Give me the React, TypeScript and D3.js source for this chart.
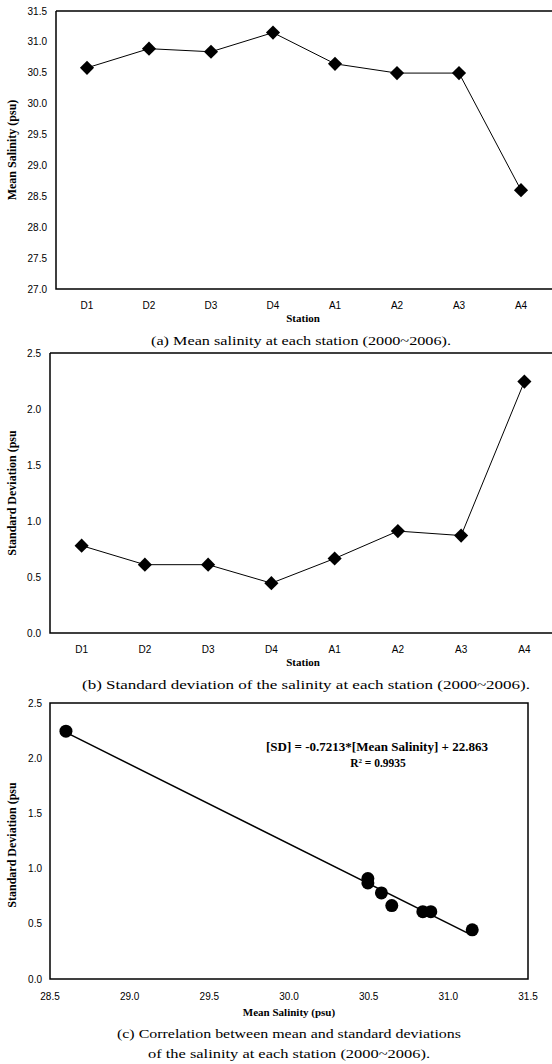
import React from "react";
import * as d3 from "d3";

const stations = ["D1", "D2", "D3", "D4", "A1", "A2", "A3", "A4"];
const meanSalinity = [30.58, 30.89, 30.84, 31.15, 30.645, 30.495, 30.495, 28.6];
const stdDev = [0.78, 0.61, 0.61, 0.445, 0.665, 0.91, 0.87, 2.245];
const meanTicks = [27.0, 27.5, 28.0, 28.5, 29.0, 29.5, 30.0, 30.5, 31.0, 31.5];
const sdTicks = [0.0, 0.5, 1.0, 1.5, 2.0, 2.5];
const salTicksC = [28.5, 29.0, 29.5, 30.0, 30.5, 31.0, 31.5];
const regSlope = -0.7213;
const regIntercept = 22.863;
const captions = [
  "(a) Mean salinity at each station (2000~2006).",
  "(b) Standard deviation of the salinity at each station (2000~2006).",
  "(c) Correlation between mean and standard deviations",
  "of the salinity at each station (2000~2006).",
];

const SANS = "'Liberation Sans', Arial, sans-serif";
const SERIF = "'Liberation Serif', 'Times New Roman', serif";
const CAP = "'Liberation Serif', 'Times New Roman', serif";

const diamond = d3.symbol().type(d3.symbolSquare).size(100)();

function LinePanel({ values, ticks, domain, top, bottom, left, right, yTitle, fmt }: any) {
  const x = d3.scaleBand().domain(stations).range([left, right]);
  const y = d3.scaleLinear().domain(domain).range([bottom, top]);
  const line = d3
    .line<number>()
    .x((_, i) => (x(stations[i]) as number) + x.bandwidth() / 2)
    .y((v) => y(v));
  return (
    <g>
      <path d={`M${left},${top}H${right}M${left},${top}V${bottom}H${right}`} fill="none" stroke="#000" strokeWidth={1.5} />
      {ticks.map((t: number) => (
        <text key={t} x={left - 9} y={y(t)} dy="0.35em" textAnchor="end" fontFamily={SANS} fontSize={10}>
          {fmt(t)}
        </text>
      ))}
      {stations.map((s) => (
        <text key={s} x={(x(s) as number) + x.bandwidth() / 2} y={bottom + 20} textAnchor="middle" fontFamily={SANS} fontSize={10}>
          {s}
        </text>
      ))}
      <path d={line(values) as string} fill="none" stroke="#000" strokeWidth={1} />
      {values.map((v: number, i: number) => (
        <path
          key={i}
          d={diamond as string}
          transform={`translate(${(x(stations[i]) as number) + x.bandwidth() / 2},${y(v)}) rotate(45)`}
          fill="#000"
        />
      ))}
      <text
        transform={`translate(16,${(top + bottom) / 2}) rotate(-90)`}
        textAnchor="middle"
        fontFamily={SERIF}
        fontWeight="bold"
        fontSize={12}
      >
        {yTitle}
      </text>
      <text x={303} y={bottom + 33} textAnchor="middle" fontFamily={SERIF} fontWeight="bold" fontSize={11}>
        Station
      </text>
    </g>
  );
}

export default function App() {
  const cl = 50, cr = 528, ct = 703, cb = 979;
  const xc = d3.scaleLinear().domain([28.5, 31.5]).range([cl, cr]);
  const yc = d3.scaleLinear().domain([0, 2.5]).range([cb, ct]);
  const ext = d3.extent(meanSalinity) as [number, number];
  const reg = d3
    .line<number>()
    .x((m) => xc(m))
    .y((m) => yc(regSlope * m + regIntercept));

  return (
    <svg width={552} height={1064} style={{ position: "absolute", left: 0, top: 0, background: "#fff" }}>
      <rect width={552} height={1064} fill="#fff" />
      <LinePanel
        values={meanSalinity}
        ticks={meanTicks}
        domain={[27, 31.5]}
        top={11}
        bottom={289}
        left={56}
        right={552}
        yTitle="Mean Salinity (psu)"
        fmt={(t: number) => t.toFixed(1)}
      />
      <text x={301} y={345} textAnchor="middle" fontFamily={CAP} fontSize={13.5} textLength={300} lengthAdjust="spacingAndGlyphs">
        {captions[0]}
      </text>
      <LinePanel
        values={stdDev}
        ticks={sdTicks}
        domain={[0, 2.5]}
        top={353}
        bottom={633}
        left={50}
        right={556}
        yTitle="Standard Deviation (psu"
        fmt={(t: number) => t.toFixed(1)}
      />
      <text x={306} y={689} textAnchor="middle" fontFamily={CAP} fontSize={13.5} textLength={448} lengthAdjust="spacingAndGlyphs">
        {captions[1]}
      </text>

      <rect x={cl} y={ct} width={cr - cl} height={cb - ct} fill="none" stroke="#000" strokeWidth={1.5} />
      {sdTicks.map((t) => (
        <text key={t} x={cl - 8} y={yc(t)} dy="0.35em" textAnchor="end" fontFamily={SANS} fontSize={10}>
          {t.toFixed(1)}
        </text>
      ))}
      {salTicksC.map((t) => (
        <text key={t} x={xc(t)} y={cb + 21} textAnchor="middle" fontFamily={SANS} fontSize={10}>
          {t.toFixed(1)}
        </text>
      ))}
      <path d={reg(ext) as string} fill="none" stroke="#000" strokeWidth={1.5} />
      {meanSalinity.map((m, i) => (
        <circle key={i} cx={xc(m)} cy={yc(stdDev[i])} r={6.5} fill="#000" />
      ))}
      <text x={377} y={751} textAnchor="middle" fontFamily={SERIF} fontWeight="bold" fontSize={11.5} textLength={222} lengthAdjust="spacingAndGlyphs">
        [SD] = -0.7213*[Mean Salinity] + 22.863
      </text>
      <text x={378} y={767} textAnchor="middle" fontFamily={SERIF} fontWeight="bold" fontSize={11.5}>
        R<tspan dy={-4} fontSize={7}>2</tspan>
        <tspan dy={4}> = 0.9935</tspan>
      </text>
      <text
        transform={`translate(16,${(ct + cb) / 2 + 4}) rotate(-90)`}
        textAnchor="middle"
        fontFamily={SERIF}
        fontWeight="bold"
        fontSize={12}
      >
        Standard Deviation (psu
      </text>
      <text x={289} y={1016} textAnchor="middle" fontFamily={SERIF} fontWeight="bold" fontSize={11}>
        Mean Salinity (psu)
      </text>
      <text x={289} y={1038} textAnchor="middle" fontFamily={CAP} fontSize={13.5} textLength={344} lengthAdjust="spacingAndGlyphs">
        {captions[2]}
      </text>
      <text x={289} y={1058} textAnchor="middle" fontFamily={CAP} fontSize={13.5} textLength={282} lengthAdjust="spacingAndGlyphs">
        {captions[3]}
      </text>
    </svg>
  );
}
